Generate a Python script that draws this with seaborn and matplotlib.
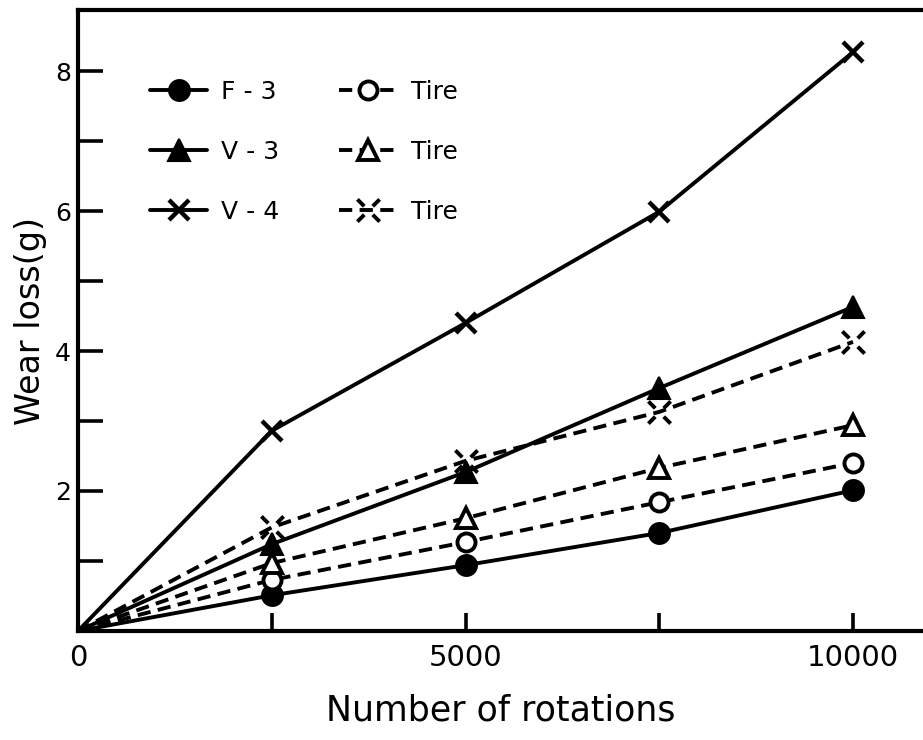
import numpy as np
import pandas as pd
import matplotlib
matplotlib.use("Agg")
import matplotlib.pyplot as plt
from matplotlib.path import Path
from matplotlib.ticker import FixedLocator
import seaborn as sns

# ---- data ----
rotations = [0, 2500, 5000, 7500, 10000]
f3 = [0, 0.51, 0.94, 1.40, 2.01]
f3_tire = [0, 0.73, 1.27, 1.84, 2.40]
v3 = [0, 1.24, 2.27, 3.47, 4.63]
v3_tire = [0, 0.97, 1.61, 2.33, 2.94]
v4 = [0, 2.86, 4.40, 5.99, 8.27]
v4_tire = [0, 1.48, 2.43, 3.13, 4.13]

x_ticks_major = [0, 5000, 10000]
x_ticks_minor = [2500, 7500]
y_ticks_major = [2, 4, 6, 8]
y_ticks_minor = [1, 3, 5, 7]

sns.set_style("ticks")
plt.rcParams["font.family"] = ["DejaVu Sans"]
for key in ["text.color", "axes.labelcolor", "xtick.color", "ytick.color",
            "axes.edgecolor"]:
    plt.rcParams[key] = "black"

fig = plt.figure(figsize=(9.23, 7.40), dpi=100)
ax = fig.add_axes([78 / 923, 109 / 740, 1 - 78 / 923, 621 / 740])

# broken "x" marker for the V-4 tire series
r0, r1 = 0.38, 1.0
verts, codes = [], []
for sx, sy in [(1, 1), (-1, 1), (-1, -1), (1, -1)]:
    verts += [(sx * r0, sy * r0), (sx * r1, sy * r1)]
    codes += [Path.MOVETO, Path.LINETO]
broken_x = Path(verts, codes)

lw = 2.8
dash = (0, (3.4, 1.9))
common = dict(color="black", linewidth=lw, markevery=[1, 2, 3, 4],
              markeredgecolor="black", ax=ax, legend=False)

series = [
    ("F - 3", f3, dict(marker="o", markersize=15, markerfacecolor="black",
                       markeredgewidth=1.5, linestyle="-")),
    ("V - 3", v3, dict(marker="^", markersize=16, markerfacecolor="black",
                       markeredgewidth=1.5, linestyle="-")),
    ("V - 4", v4, dict(marker="x", markersize=14, markeredgewidth=3.2,
                       linestyle="-")),
    ("Tire", f3_tire, dict(marker="o", markersize=13, markerfacecolor="white",
                           markeredgewidth=2.8, linestyle=dash)),
    ("Tire", v3_tire, dict(marker="^", markersize=15, markerfacecolor="white",
                           markeredgewidth=2.8, linestyle=dash)),
    ("Tire", v4_tire, dict(marker=broken_x, markersize=16, markeredgewidth=2.8,
                           linestyle=dash)),
]

handles = []
for name, vals, kw in series:
    df = pd.DataFrame({"rot": rotations, "wear": vals})
    sns.lineplot(data=df, x="rot", y="wear", label=name, **common, **kw)
    handles.append(ax.lines[-1])

ax.set_xlim(0, 845 / 193.75 * 2500)
ax.set_ylim(0, 621 / 70)

ax.spines["right"].set_visible(False)
for side in ["left", "bottom", "top"]:
    ax.spines[side].set_linewidth(3.0)
    ax.spines[side].set_color("black")

ax.xaxis.set_major_locator(FixedLocator(x_ticks_major))
ax.xaxis.set_minor_locator(FixedLocator(x_ticks_minor))
ax.yaxis.set_major_locator(FixedLocator(y_ticks_major))
ax.yaxis.set_minor_locator(FixedLocator(y_ticks_minor))
ax.set_xticklabels([str(v) for v in x_ticks_major])
ax.set_yticklabels([str(v) for v in y_ticks_major])

ax.tick_params(axis="y", which="both", direction="in", length=18, width=2.6,
               labelsize=18, pad=5, colors="black")
ax.tick_params(axis="x", which="both", direction="in", length=13, width=2.6,
               labelsize=21, pad=9, colors="black")

ax.set_xlabel("Number of rotations", fontsize=25, labelpad=16, color="black")
ax.set_ylabel("Wear loss(g)", fontsize=24, labelpad=6, color="black")

leg = ax.legend(handles=handles, labels=[s[0] for s in series], ncol=2,
                loc="upper left", bbox_to_anchor=(0.085, 0.887),
                frameon=False, fontsize=18, handlelength=2.3,
                handletextpad=0.55, columnspacing=2.4, labelspacing=1.44,
                borderpad=0, borderaxespad=0, numpoints=1)
for t in leg.get_texts():
    t.set_color("black")

fig.savefig("out.png", dpi=100, facecolor="white")
